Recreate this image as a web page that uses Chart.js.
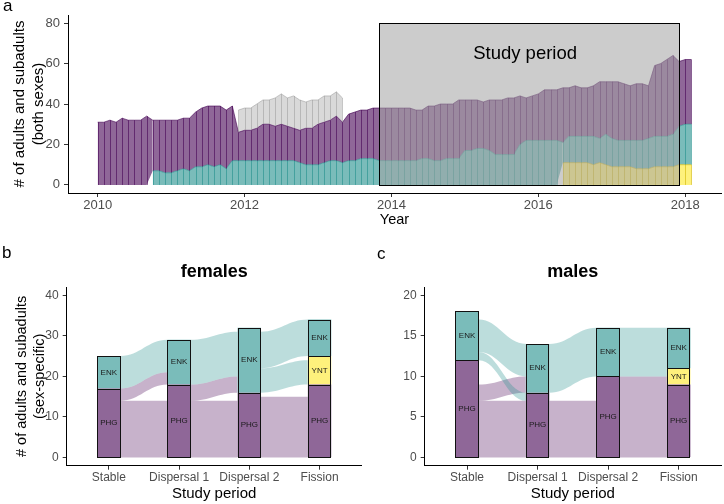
<!DOCTYPE html>
<html>
<head>
<meta charset="utf-8">
<script src="https://cdn.jsdelivr.net/npm/chart.js@4/dist/chart.umd.min.js"></script>
<style>
  html, body { margin: 0; padding: 0; background: #fff; }
  body { width: 724px; height: 504px; position: relative; overflow: hidden; font-family: 'Liberation Sans', Arial, sans-serif; }
  .pnl { position: absolute; }
  .pnl canvas { display: block; }
  .tag { position: absolute; font-size: 17px; line-height: 17px; color: #000; }
</style>
</head>
<body>
<div class="pnl" style="left:0;top:0;width:724px;height:230px"><canvas id="chartA" width="724" height="230"></canvas></div>
<div class="pnl" style="left:0;top:230px;width:362px;height:274px"><canvas id="chartB" width="362" height="274"></canvas></div>
<div class="pnl" style="left:362px;top:230px;width:362px;height:274px"><canvas id="chartC" width="362" height="274"></canvas></div>
<div class="tag" style="left:3px;top:-3px">a</div>
<div class="tag" style="left:2px;top:244px">b</div>
<div class="tag" style="left:377px;top:245px">c</div>

<script>
// ─── panel a: monthly group sizes, Jan 2010 → Feb 2018 ───
const startYear = 2010;
const yntMonthly = [
  0,0,0,0,0,0,0,0,0,0,0,0,
  0,0,0,0,0,0,0,0,0,0,0,0,
  0,0,0,0,0,0,0,0,0,0,0,0,
  0,0,0,0,0,0,0,0,0,0,0,0,
  0,0,0,0,0,0,0,0,0,0,0,0,
  0,0,0,0,0,0,0,0,0,0,0,0,
  0,0,0,0,11,11,11,11,11,10,11,10,
  9,9,9,9,8,8,8,9,9,9,9,10,
  10,10];
const enkMonthly = [
  0,0,0,0,0,0,0,0,0,7,7,6,
  6,7,8,7,9,9,10,9,10,8,12,12,
  12,12,12,12,12,12,12,12,12,11,10,10,
  10,11,12,12,11,12,12,13,13,13,12,12,
  12,12,12,12,12,13,13,12,12,13,13,13,
  17,17,18,18,17,15,15,15,15,20,22,22,
  22,22,22,22,10,13,13,13,13,14,12,15,
  14,13,13,13,14,14,15,15,15,15,16,19,
  20,20];
const phgMonthly = [
  31,31,32,31,33,32,32,32,34,25,25,26,
  26,25,25,26,27,29,29,30,29,29,27,14,
  15,15,16,18,18,17,18,17,16,16,18,18,
  20,20,20,22,20,23,24,24,24,25,26,26,
  26,26,26,26,25,24,26,27,28,27,27,29,
  25,25,24,23,25,27,27,28,28,24,21,22,
  23,25,25,25,27,24,25,24,24,25,28,26,
  28,29,28,27,28,28,26,35,36,38,39,32,
  32,32];
const unkMonthly = [
  0,0,0,0,0,0,0,0,0,0,0,0,
  0,0,0,0,0,0,0,0,0,0,0,11,
  11,11,12,12,12,14,15,14,16,15,13,14,
  12,13,12,12,12,0,0,0,0,0,0,0,
  0,0,0,0,0,0,0,0,0,0,0,0,
  0,0,0,0,0,0,0,0,0,0,0,0,
  0,0,0,0,0,0,0,0,0,0,0,0,
  0,0,0,0,0,0,0,0,0,0,0,0,
  0,0];
const yearTicks = [2010, 2012, 2014, 2016, 2018];
const countTicksA = [0, 20, 40, 60, 80];
const studyPeriod = [2013 + 10/12, 2017 + 11/12];
const studyLabel = [2015.82, 65];

// ─── panels b/c: alluvial plot per study period ───
const stages = ['Stable', 'Dispersal 1', 'Dispersal 2', 'Fission'];
const femPHG = [17, 18, 16, 18];
const femYNT = [null, null, null, 7];
const femENK = [8, 11, 16, 9];
const malPHG = [12, 8, 10, 9];
const malYNT = [null, null, null, 2];
const malENK = [6, 6, 6, 5];
// flows: [from stage, low, high at source, low, high at next stage]
const femFlowPHG = [[0,0,14,0,14], [0,14,17,18,21], [1,0,14,0,14], [1,14,18,16,20], [2,0,15,0,15]];
const femFlowENK = [[0,17,25,21,29], [1,18,29,20,31], [2,22,31,25,34], [2,16,22,18,24]];
const malFlowPHG = [[0,0,7,0,7], [0,7,9,8,10], [1,0,7,0,7], [2,0,10,0,10]];
const malFlowENK = [[0,13,17,10,14], [0,12,13,7,8], [1,8,14,10,16], [2,10,16,10,16]];
const femTicks = [0, 10, 20, 30, 40];
const malTicks = [0, 5, 10, 15, 20];

const FONT = "'Liberation Sans', Arial, sans-serif";
Chart.defaults.font.family = FONT;
Chart.defaults.color = '#4d4d4d';

const COL = {
  PHG: { fill: '#8f6798', line: 'rgba(68,1,84,0.6)',   flow: 'rgba(68,1,84,0.3)' },
  ENK: { fill: '#7abcba', line: 'rgba(33,144,140,0.6)', flow: 'rgba(33,144,140,0.3)' },
  YNT: { fill: '#fef17c', line: 'rgba(215,190,20,0.7)' },
  UNK: { fill: '#d9d9d9', line: 'rgba(150,150,150,0.5)' }
};

const axisGrid = { display: true, drawOnChartArea: false, drawTicks: true, tickLength: 4, color: '#333', lineWidth: 1, offset: false };
const axisBorder = { display: true, color: '#000', width: 1 };

// ─── panel a ───
const toMonths = arr => arr.map((v, i) => ({ x: startYear + i / 12, y: v }));
const hideEmpty = ctx => (ctx.p0.raw.y === 0 || ctx.p1.raw.y === 0) ? 'rgba(0,0,0,0)' : undefined;
function areaSet(label, arr, c, fill) {
  return {
    label, data: toMonths(arr), fill,
    backgroundColor: c.fill, borderColor: c.line, borderWidth: 1,
    pointRadius: 0, tension: 0, stripe: c.line,
    segment: { backgroundColor: hideEmpty, borderColor: hideEmpty }
  };
}

const spanYears = (phgMonthly.length - 1) / 12;
const xPad = spanYears * 0.05;

const stripes = {
  id: 'stripes',
  afterDatasetsDraw(chart) {
    const { ctx, scales: { x, y } } = chart;
    const zero = y.getPixelForValue(0);
    ctx.save();
    ctx.lineWidth = 1;
    chart.data.datasets.forEach((ds, i) => {
      const pts = chart.getDatasetMeta(i).data;
      const below = i > 0 ? chart.getDatasetMeta(i - 1).data : null;
      ctx.strokeStyle = ds.stripe;
      ctx.beginPath();
      pts.forEach((p, j) => {
        if (!ds.data[j].y) return;
        const px = Math.round(p.x) + 0.5;
        ctx.moveTo(px, p.y);
        ctx.lineTo(px, below ? below[j].y : zero);
      });
      ctx.stroke();
    });
    // study period box
    const x0 = x.getPixelForValue(studyPeriod[0]), x1 = x.getPixelForValue(studyPeriod[1]);
    const yt = y.getPixelForValue(countTicksA[countTicksA.length - 1]);
    ctx.fillStyle = 'rgba(164,164,164,0.56)';
    ctx.fillRect(x0, yt, x1 - x0, zero - yt);
    ctx.strokeStyle = '#000';
    ctx.strokeRect(Math.round(x0) + 0.5, Math.round(yt) + 0.5, Math.round(x1 - x0), Math.round(zero - yt));
    ctx.fillStyle = '#000';
    ctx.font = '18.5px ' + FONT;
    ctx.textAlign = 'center';
    ctx.textBaseline = 'middle';
    ctx.fillText('Study period', x.getPixelForValue(studyLabel[0]), y.getPixelForValue(studyLabel[1]));
    ctx.restore();
  }
};

new Chart(document.getElementById('chartA'), {
  type: 'line',
  data: {
    datasets: [
      areaSet('YNT', yntMonthly, COL.YNT, 'origin'),
      areaSet('ENK', enkMonthly, COL.ENK, '-1'),
      areaSet('PHG', phgMonthly, COL.PHG, '-1'),
      areaSet('unknown', unkMonthly, COL.UNK, '-1')
    ]
  },
  options: {
    responsive: false, devicePixelRatio: 1, animation: false, events: [],
    layout: { padding: { top: 15, right: 3, left: 0, bottom: 0 } },
    plugins: { legend: { display: false }, tooltip: { enabled: false } },
    scales: {
      x: {
        type: 'linear', min: startYear - xPad, max: startYear + spanYears + xPad, offset: false,
        afterBuildTicks: s => { s.ticks = yearTicks.map(v => ({ value: v })); },
        afterFit: s => { s.height = 37; },
        ticks: { callback: v => String(v), font: { size: 13 }, color: '#4d4d4d', padding: 1, maxRotation: 0, autoSkip: false },
        grid: axisGrid, border: axisBorder,
        title: { display: true, text: 'Year', color: '#000', font: { size: 14.5, lineHeight: 1.2 }, padding: { top: 0, bottom: 1 } }
      },
      y: {
        stacked: true, min: -4, max: 84,
        afterBuildTicks: s => { s.ticks = countTicksA.map(v => ({ value: v })); },
        afterFit: s => { s.width = 68; },
        ticks: { font: { size: 13 }, color: '#4d4d4d', padding: 4 },
        grid: axisGrid, border: axisBorder,
        title: { display: true, text: ['# of adults and subadults', '(both sexes)'], color: '#000',
                 font: { size: 15, lineHeight: 1.23 }, padding: { top: 11, bottom: 0 } }
      }
    }
  },
  plugins: [stripes]
});

// ─── panels b/c ───
function makeAlluvium(flows) {
  return {
    id: 'alluvium',
    beforeDatasetsDraw(chart) {
      const { ctx, scales: { x, y } } = chart;
      const half = chart.getDatasetMeta(0).data[0].width / 2;
      const k = 0.42;
      ctx.save();
      flows.forEach(([list, color]) => {
        ctx.fillStyle = color;
        list.forEach(([s, a0, a1, b0, b1]) => {
          const xa = x.getPixelForValue(s + 1) + half;
          const xb = x.getPixelForValue(s + 2) - half;
          const c1 = xa + (xb - xa) * k, c2 = xb - (xb - xa) * k;
          const ya0 = y.getPixelForValue(a0), ya1 = y.getPixelForValue(a1);
          const yb0 = y.getPixelForValue(b0), yb1 = y.getPixelForValue(b1);
          ctx.beginPath();
          ctx.moveTo(xa, ya1);
          ctx.bezierCurveTo(c1, ya1, c2, yb1, xb, yb1);
          ctx.lineTo(xb, yb0);
          ctx.bezierCurveTo(c2, yb0, c1, ya0, xa, ya0);
          ctx.closePath();
          ctx.fill();
        });
      });
      ctx.restore();
    }
  };
}

// strata outlines and names, drawn over the bars
const stratumLabels = {
  id: 'stratumLabels',
  afterDatasetsDraw(chart) {
    const ctx = chart.ctx;
    ctx.save();
    ctx.strokeStyle = '#111';
    ctx.lineWidth = 1;
    chart.data.datasets.forEach((ds, i) => {
      chart.getDatasetMeta(i).data.forEach((bar, j) => {
        if (ds.data[j].y == null) return;
        const l = Math.round(bar.x - bar.width / 2) + 0.5, r = Math.round(bar.x + bar.width / 2) - 0.5;
        const t = Math.round(bar.y) + 0.5, b = Math.round(bar.base) + 0.5;
        ctx.strokeRect(l, t, r - l, b - t);
      });
    });
    ctx.font = '8px ' + FONT;
    ctx.fillStyle = '#1a1a1a';
    ctx.textAlign = 'center';
    ctx.textBaseline = 'middle';
    chart.data.datasets.forEach((ds, i) => {
      chart.getDatasetMeta(i).data.forEach((bar, j) => {
        if (ds.data[j].y == null) return;
        ctx.fillText(ds.label, bar.x, (bar.y + bar.base) / 2);
      });
    });
    ctx.restore();
  }
};

function strataSet(label, arr, c) {
  return {
    label, data: arr.map((v, i) => ({ x: i + 1, y: v })),
    backgroundColor: c.fill, borderWidth: 0,
    barPercentage: 1 / 3, categoryPercentage: 1
  };
}

function alluvialChart(id, title, phg, ynt, enk, flowPHG, flowENK, ticks, yTitle, yWidth, padRight) {
  const top = ticks[ticks.length - 1], pad = top * 0.05;
  new Chart(document.getElementById(id), {
    type: 'bar',
    data: { datasets: [strataSet('PHG', phg, COL.PHG), strataSet('YNT', ynt, COL.YNT), strataSet('ENK', enk, COL.ENK)] },
    options: {
      responsive: false, devicePixelRatio: 1, animation: false, events: [],
      layout: { padding: { top: 0, right: padRight, left: 0, bottom: 0 } },
      plugins: {
        legend: { display: false }, tooltip: { enabled: false },
        title: { display: true, text: title, color: '#000', fullSize: false,
                 font: { size: 18, weight: 'bold', lineHeight: 1.2 }, padding: { top: 31.5, bottom: 4 } }
      },
      scales: {
        x: {
          type: 'linear', stacked: true, min: 0.4, max: stages.length + 0.6, offset: false,
          afterBuildTicks: s => { s.ticks = stages.map((_, i) => ({ value: i + 1 })); },
          afterFit: s => { s.height = 38.3; },
          ticks: { callback: (v, i) => stages[i], font: { size: 12 }, color: '#4d4d4d', padding: 1, maxRotation: 0, autoSkip: false },
          grid: axisGrid, border: axisBorder,
          title: { display: true, text: 'Study period', color: '#000', font: { size: 15, lineHeight: 1.2 }, padding: { top: 0, bottom: 1 } }
        },
        y: {
          stacked: true, min: -pad, max: top + pad,
          afterBuildTicks: s => { s.ticks = ticks.map(v => ({ value: v })); },
          afterFit: s => { s.width = yWidth; },
          ticks: { font: { size: 12 }, color: '#4d4d4d', padding: 4 },
          grid: axisGrid, border: axisBorder,
          title: yTitle ? { display: true, text: yTitle, color: '#000', font: { size: 14.5, lineHeight: 1.2 }, padding: { top: 13.5, bottom: 0 } }
                        : { display: false }
        }
      }
    },
    plugins: [makeAlluvium([[flowPHG, COL.PHG.flow], [flowENK, COL.ENK.flow]]), stratumLabels]
  });
}

alluvialChart('chartB', 'females', femPHG, femYNT, femENK, femFlowPHG, femFlowENK, femTicks,
              ['# of adults and subadults', '(sex-specific)'], 66.7, 0.3);
alluvialChart('chartC', 'males', malPHG, malYNT, malENK, malFlowPHG, malFlowENK, malTicks,
              null, 62.7, 3);
</script>
</body>
</html>
